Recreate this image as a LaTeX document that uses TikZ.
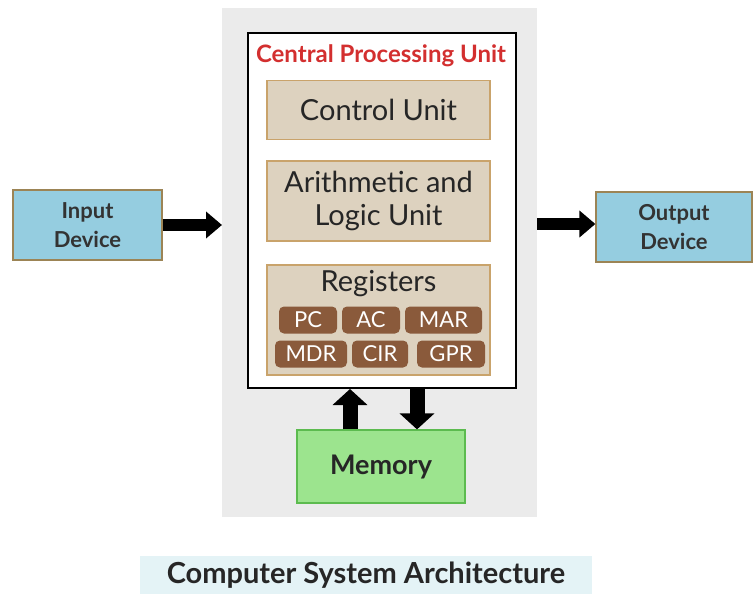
\documentclass[tikz,border=0pt]{standalone}
\usepackage{fontspec}
\setmainfont{Lato}
\usetikzlibrary{arrows.meta,positioning}
\definecolor{bggray}{HTML}{EBEBEB}
\definecolor{tanfill}{HTML}{DDD2BF}
\definecolor{tanedge}{HTML}{C9A36B}
\definecolor{pill}{HTML}{8A5A3B}
\definecolor{iofill}{HTML}{95CDE0}
\definecolor{ioedge}{HTML}{9C8455}
\definecolor{memfill}{HTML}{9CE48E}
\definecolor{memedge}{HTML}{5CBB4F}
\definecolor{capfill}{HTML}{E4F3F6}
\definecolor{cpured}{HTML}{D32F2F}
\begin{document}
\begin{tikzpicture}[x=1pt,y=-1pt,
  tanbox/.style={draw=tanedge,line width=1.2pt,fill=tanfill,minimum width=223pt,inner sep=0pt,font=\fontsize{29}{33}\selectfont,align=center,text=black!85},
  regpill/.style={fill=pill,rounded corners=5pt,text=white,minimum height=27pt,inner sep=0pt,font=\fontsize{22}{24}\selectfont},
  iobox/.style={draw=ioedge,line width=1.2pt,fill=iofill,minimum width=149pt,minimum height=70pt,align=center,font=\bfseries\fontsize{22}{29}\selectfont,text=black!80},
  fatarrow/.style={line width=12pt,-{Triangle[width=26pt,length=16pt]}},
  vfatarrow/.style={line width=15pt,-{Triangle[width=34pt,length=16pt]}}
]
\useasboundingbox (0,0) rectangle (753,594);
\fill[white] (0,0) rectangle (753,594);
% gray background
\node[fill=bggray,minimum width=315pt,minimum height=509pt,inner sep=0pt,anchor=north west] (bg) at (222,8) {};
% CPU box
\node[draw=black,line width=2pt,fill=white,minimum width=268pt,minimum height=355pt,inner sep=0pt,anchor=north west] (cpu) at (247,32) {};
\node[text=cpured,font=\bfseries\fontsize{24}{26}\selectfont] (cputitle) at (381,56) {Central Processing Unit};
\node[tanbox,minimum height=59pt] (cu) at (378.5,110) {Control Unit};
\node[tanbox,minimum height=80pt] (alu) at (378.5,201) {Arithmetic and\\Logic Unit};
\node[tanbox,minimum height=110pt] (reg) at (378.5,320) {};
\node[font=\fontsize{29}{33}\selectfont,text=black!85] (regtitle) at (378.5,284) {Registers};
\node[regpill,minimum width=58pt] (pc) at (308,320) {PC};
\node[regpill,minimum width=58pt] (ac) at (371,320) {AC};
\node[regpill,minimum width=77pt] (mar) at (443.5,320) {MAR};
\node[regpill,minimum width=72pt] (mdr) at (311,354) {MDR};
\node[regpill,minimum width=56pt] (cir) at (380,354) {CIR};
\node[regpill,minimum width=68pt] (gpr) at (451,354) {GPR};
% memory
\node[draw=memedge,line width=1.2pt,fill=memfill,minimum width=168pt,minimum height=73pt,inner sep=0pt,font=\bfseries\fontsize{27}{30}\selectfont,text=black!85] (mem) at (381,466.5) {Memory};
% IO
\node[iobox] (in) at (87.5,225) {Input\\Device};
\node[iobox,minimum width=156pt] (out) at (674,227) {Output\\Device};
% arrows
\draw[fatarrow] (in.east |- 0,225) -- (bg.west |- 0,225);
\draw[fatarrow] (bg.east |- 0,224) -- (out.west |- 0,224);
\coordinate (upx) at (350,0);
\coordinate (dnx) at (417,0);
\draw[vfatarrow] (mem.north -| upx) -- (cpu.south -| upx);
\draw[vfatarrow] (cpu.south -| dnx) -- (mem.north -| dnx);
% caption
\node[fill=capfill,minimum width=452pt,minimum height=39pt,inner sep=0pt,font=\bfseries\fontsize{29}{32}\selectfont,text=black!85] (cap) at (366,575) {Computer System Architecture};
\end{tikzpicture}
\end{document}
